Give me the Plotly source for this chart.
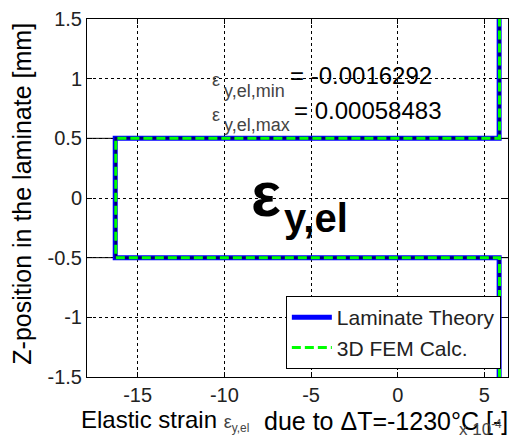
import plotly.graph_objects as go

# Through-thickness profile of the elastic strain (units of 1e-4)
z_theory = [-1.5, -0.5, -0.5, 0.5, 0.5, 1.5]
eps_theory = [5.8483, 5.8483, -16.292, -16.292, 5.8483, 5.8483]

z_fem = [-1.5, -0.5, -0.5, 0.5, 0.5, 1.5]
eps_fem = [5.87, 5.87, -16.26, -16.26, 5.87, 5.87]

x_ticks = [-15, -10, -5, 0, 5]
y_ticks = [-1.5, -1, -0.5, 0, 0.5, 1, 1.5]
layer_bounds = [-0.5, 0.5]

SCALE = 1e-4
eps_min = min(eps_theory) * SCALE
eps_max = max(eps_theory) * SCALE

FONT = "Liberation Sans, Arial, sans-serif"

fig = go.Figure()

fig.add_trace(go.Scatter(
    x=eps_theory, y=z_theory, mode="lines", name="Laminate Theory",
    line=dict(color="#0000ff", width=5),
))
fig.add_trace(go.Scatter(
    x=eps_fem, y=z_fem, mode="lines", showlegend=False, hoverinfo="skip",
    line=dict(color="#00006e", width=2.5),
))
fig.add_trace(go.Scatter(
    x=eps_fem, y=z_fem, mode="lines", name="3D FEM Calc.",
    line=dict(color="#00ff00", width=3, dash="9px,4px"),
))

# ply interfaces
for zb in layer_bounds:
    fig.add_shape(type="line", xref="paper", yref="y", x0=0, x1=1, y0=zb, y1=zb,
                  line=dict(color="black", width=1), layer="between")

axis_common = dict(
    showline=True, linecolor="black", linewidth=1, mirror="ticks",
    ticks="inside", ticklen=5, tickcolor="black",
    showgrid=True, gridcolor="black", gridwidth=1, griddash="dot",
    zeroline=False, tickfont=dict(family=FONT, size=20, color="#222"),
)

fig.update_xaxes(range=[-17.92, 6.36], tickvals=x_ticks,
                 ticktext=[str(v) for v in x_ticks], **axis_common)
fig.update_yaxes(range=[-1.5, 1.5], tickvals=y_ticks,
                 ticktext=["-1.5", "-1", "-0.5", "0", "0.5", "1", "1.5"],
                 **axis_common)

ann = []
# min / max readout
for lbl, val, yv, ys, yvv in [("y,el,min", eps_min, 0.993, 0.90, 1.026),
                              ("y,el,max", eps_max, 0.694, 0.611, 0.735)]:
    ann.append(dict(x=-10.46, y=yv, xref="x", yref="y", text="ε", showarrow=False,
                    font=dict(family=FONT, size=18, color="#444"),
                    xanchor="center", yanchor="middle"))
    ann.append(dict(x=-10.12, y=ys, xref="x", yref="y", text=lbl, showarrow=False,
                    font=dict(family=FONT, size=18, color="#444"),
                    xanchor="left", yanchor="middle"))
    ann.append(dict(x=-6.34 if val < 0 else -6.11, y=yvv, xref="x", yref="y",
                    text=f"= {val:.5g}", showarrow=False,
                    font=dict(family=FONT, size=24, color="black"),
                    xanchor="left", yanchor="middle"))

# large symbol label
ann.append(dict(x=-7.6, y=0.03, xref="x", yref="y", text="<b>ε</b>", showarrow=False,
                font=dict(family=FONT, size=63, color="black"),
                xanchor="center", yanchor="middle"))
ann.append(dict(x=-6.7, y=-0.17, xref="x", yref="y", text="<b>y,el</b>", showarrow=False,
                font=dict(family=FONT, size=40, color="black"),
                xanchor="left", yanchor="middle"))

# axis titles
ann.append(dict(x=(21 - 87) / 422, y=(377 - 192) / 361, xref="paper", yref="paper",
                text="Z-position in the laminate [mm]", textangle=-90, showarrow=False,
                font=dict(family=FONT, size=25, color="black"),
                xanchor="center", yanchor="middle"))
ann.append(dict(x=(79 - 87) / 422, y=(377 - 421) / 361, xref="paper", yref="paper",
                text="Elastic strain <span style='font-size:18px;color:#444'>ε</span>"
                     "<span style='font-size:17px;color:#444'><sub>y,el</sub></span>",
                showarrow=False, font=dict(family=FONT, size=24, color="black"),
                xanchor="left", yanchor="middle"))
ann.append(dict(x=(262 - 87) / 422, y=(377 - 421) / 361, xref="paper", yref="paper",
                text="due to ΔT=-1230°C [-]",
                showarrow=False, font=dict(family=FONT, size=25, color="black"),
                xanchor="left", yanchor="middle"))
ann.append(dict(x=(458 - 87) / 422, y=(377 - 428) / 361, xref="paper", yref="paper",
                text="x 10<sup>-4</sup>", showarrow=False,
                font=dict(family=FONT, size=17, color="#444"),
                xanchor="left", yanchor="middle"))

fig.update_layout(
    width=517, height=442,
    margin=dict(l=87, r=8, t=16, b=65),
    paper_bgcolor="white", plot_bgcolor="white",
    annotations=ann,
    showlegend=True,
    legend=dict(x=0.983, y=0.022, xanchor="right", yanchor="bottom",
                bgcolor="white", bordercolor="black", borderwidth=1,
                font=dict(family=FONT, size=21, color="#222"),
                tracegroupgap=0, itemwidth=40),
)

fig.write_html("out.html")
